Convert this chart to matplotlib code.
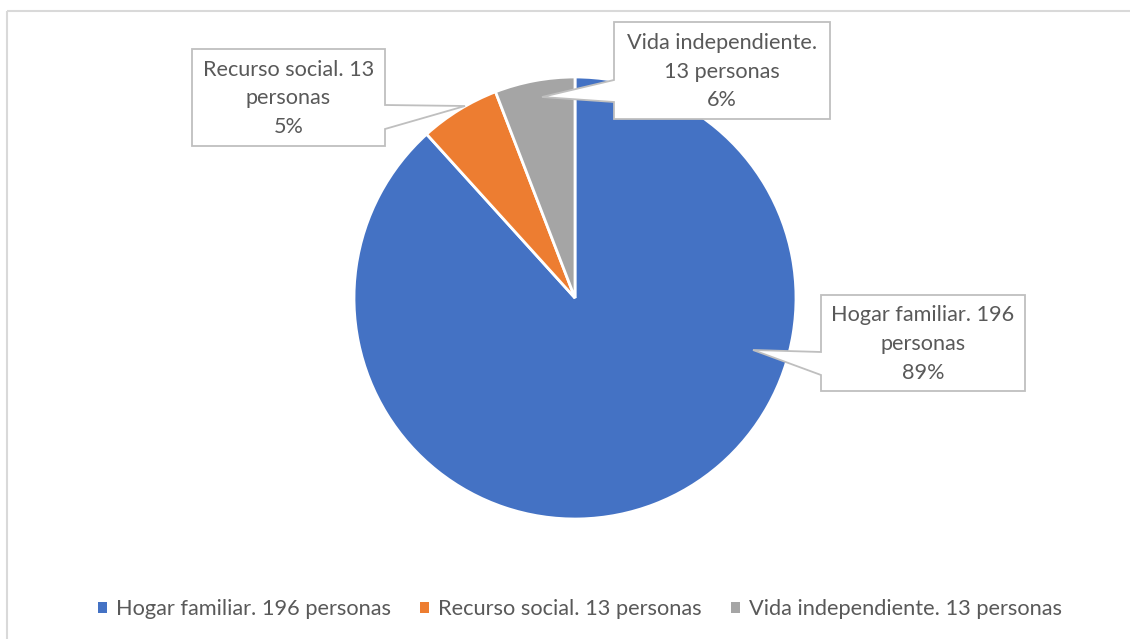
import matplotlib
matplotlib.use("Agg")

import matplotlib.pyplot as plt
from matplotlib.patches import Polygon, Rectangle

# data
categories = ["Hogar familiar", "Recurso social", "Vida independiente"]
personas = [196, 13, 13]
percents = [89, 5, 6]
callout_text = [
    "Hogar familiar. 196\npersonas\n89%",
    "Recurso social. 13\npersonas\n5%",
    "Vida independiente.\n13 personas\n6%",
]
colors = ["#4472C4", "#ED7D31", "#A5A5A5"]

# callout layout in pixel coords: box (x0, y0, x1, y1), pointer side, base y's, apex
callouts = [
    ((821, 295, 1025, 391), "left", (352, 375), (753, 350)),
    ((192, 49, 385, 146), "right", (105, 129), (465, 106)),
    ((614, 22, 830, 119), "left", (80, 102), (542, 97)),
]

plt.rcParams["font.family"] = ["Lato", "DejaVu Sans"]
TXT = "#595959"

fig = plt.figure(figsize=(11.3, 6.39), dpi=100)
ax = fig.add_axes([0, 0, 1, 1])

wedges, _ = ax.pie(personas, colors=colors, startangle=-90, counterclock=True,
                   center=(575, 298), radius=221,
                   wedgeprops=dict(edgecolor="white", linewidth=2))

ax.set_xlim(0, 1130)
ax.set_ylim(639, 0)
ax.set_aspect("auto")
ax.axis("off")

# chart area border
ax.add_patch(Rectangle((7, 11), 1140, 650, fill=False, edgecolor="#D9D9D9",
                       linewidth=1.5, zorder=1))

for (box, side, (ya, yb), apex), txt in zip(callouts, callout_text):
    x0, y0, x1, y1 = box
    if side == "left":
        pts = [(x0, y0), (x1, y0), (x1, y1), (x0, y1), (x0, yb), apex, (x0, ya)]
    else:
        pts = [(x0, y0), (x1, y0), (x1, ya), apex, (x1, yb), (x1, y1), (x0, y1)]
    ax.add_patch(Polygon(pts, closed=True, facecolor="white",
                         edgecolor="#BFBFBF", linewidth=1.3, zorder=5))
    ax.text((x0 + x1) / 2, (y0 + y1) / 2 + 1, txt, ha="center", va="center",
            fontsize=15.6, color=TXT, linespacing=1.55, zorder=6)

labels = [f"{c}. {n} personas" for c, n in zip(categories, personas)]
leg = ax.legend(wedges, labels, loc="center", bbox_to_anchor=(580 / 1130, 1 - 609 / 639),
                ncol=3, frameon=False, fontsize=15.7, handlelength=0.42,
                handleheight=0.42, handletextpad=0.4, columnspacing=1.35)
for t in leg.get_texts():
    t.set_color(TXT)
for h in leg.legend_handles:
    h.set_edgecolor("none")

fig.savefig("out.png", dpi=100)
